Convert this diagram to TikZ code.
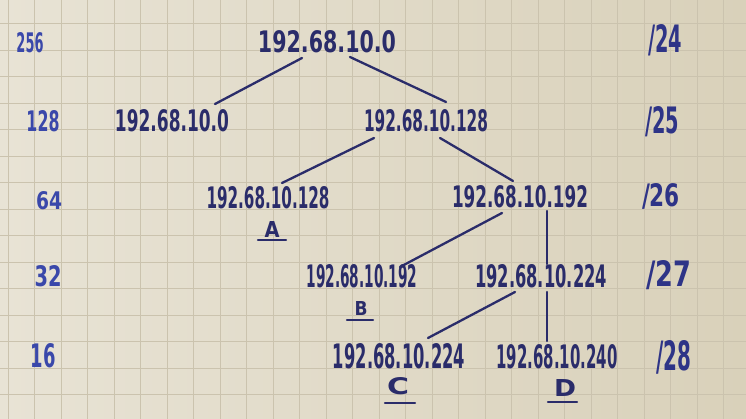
\documentclass[tikz,border=0pt]{standalone}
\usepackage{fontspec}
\setmainfont{DejaVu Sans}
\definecolor{paperL}{HTML}{E8E3D5}
\definecolor{paperR}{HTML}{D9D1BA}
\definecolor{gridc}{HTML}{CBC3AE}
\definecolor{ink}{HTML}{2A2C6A}
\definecolor{inkblue}{HTML}{3A48AA}
\definecolor{inkmid}{HTML}{2E3487}
\newcommand\wt[3]{\resizebox{#1pt}{#2pt}{\bfseries #3}}
\tikzset{
  ip/.style={inner sep=0pt, outer sep=0pt, text=ink},
  lvl/.style={inner sep=0pt, outer sep=0pt, text=inkblue},
  pfx/.style={inner sep=0pt, outer sep=0pt, text=inkmid},
  letter/.style={inner sep=0pt, outer sep=0pt, text=ink},
  pen/.style={draw=ink, line width=2.3pt, line cap=round},
  gridline/.style={draw=gridc, line width=0.9pt}
}
\begin{document}
\begin{tikzpicture}[x=1pt,y=-1pt]
\useasboundingbox (0,0) rectangle (746,419);
\shade[left color=paperL, right color=paperR] (0,0) rectangle (746,419);
\foreach \i in {0,...,28} \draw[gridline] ({8+26.5*\i},0) -- ({8+26.5*\i},419);
\foreach \j in {0,...,15} \draw[gridline] (0,{23.8+26.5*\j}) -- (746,{23.8+26.5*\j});

% left column: number of addresses
\node[lvl] (n256) at (30,43)  {\wt{27}{20}{256}};
\node[lvl] (n128) at (43,121) {\wt{33}{21}{128}};
\node[lvl] (n64)  at (49,201) {\wt{26}{18}{64}};
\node[lvl] (n32)  at (48,276) {\wt{27}{21}{32}};
\node[lvl] (n16)  at (43,356) {\wt{25}{24}{16}};

% right column: prefixes
\node[pfx] (p24) at (665,40)  {\wt{34}{28}{/24}};
\node[pfx] (p25) at (662,122) {\wt{34}{27}{/25}};
\node[pfx] (p26) at (661,196) {\wt{38}{23}{/26}};
\node[pfx] (p27) at (669,275) {\wt{45}{26}{/27}};
\node[pfx] (p28) at (674,357) {\wt{35}{30}{/28}};

% tree
\node[ip] (root) at (327,42)  {\wt{138}{22}{192.68.10.0}};
\node[ip] (l1a)  at (172,121) {\wt{114}{22}{192.68.10.0}};
\node[ip] (l1b)  at (426,121) {\wt{124}{22}{192.68.10.128}};
\node[ip] (a)    at (268,198) {\wt{123}{22}{192.68.10.128}};
\node[ip] (l2b)  at (520,197) {\wt{136}{22}{192.68.10.192}};
\node[ip] (b)    at (362,276) {\wt{111}{23}{192.68.10.192}};
\node[ip] (l3b)  at (541,276) {\wt{132}{23}{192.68.10.224}};
\node[ip] (c)    at (399,356) {\wt{132}{25}{192.68.10.224}};
\node[ip] (d)    at (557,357) {\wt{121}{24}{192.68.10.240}};

% letters
\node[letter] (la) at (272,229) {\wt{15}{16}{A}};
\node[letter] (lb) at (361,308) {\wt{13}{14}{B}};
\node[letter] (lc) at (398,386) {\wt{22}{17}{C}};
\node[letter] (ld) at (565,388) {\wt{22}{17}{D}};
\draw[pen] ([shift={(-14,11)}]la.center) -- ([shift={(14,11)}]la.center);
\draw[pen] ([shift={(-14,12)}]lb.center) -- ([shift={(12,12)}]lb.center);
\draw[pen] ([shift={(-13,17)}]lc.center) -- ([shift={(17,17)}]lc.center);
\draw[pen] ([shift={(-17,14)}]ld.center) -- ([shift={(12,14)}]ld.center);

% connectors
\draw[pen] ([shift={(-25,16)}]root.center) -- ([shift={(43,-17)}]l1a.center);
\draw[pen] ([shift={(23,15)}]root.center) -- ([shift={(20,-19)}]l1b.center);
\draw[pen] ([shift={(-52,17)}]l1b.center) -- ([shift={(14,-15)}]a.center);
\draw[pen] ([shift={(14,17)}]l1b.center) -- ([shift={(-7,-16)}]l2b.center);
\draw[pen] ([shift={(-18,16)}]l2b.center) -- ([shift={(38,-9)}]b.center);
\draw[pen] ([shift={(27,14)}]l2b.center) -- ([shift={(6,-12)}]l3b.center);
\draw[pen] ([shift={(-26,16)}]l3b.center) -- ([shift={(29,-18)}]c.center);
\draw[pen] ([shift={(6,16)}]l3b.center) -- ([shift={(-10,-16)}]d.center);
\end{tikzpicture}
\end{document}
